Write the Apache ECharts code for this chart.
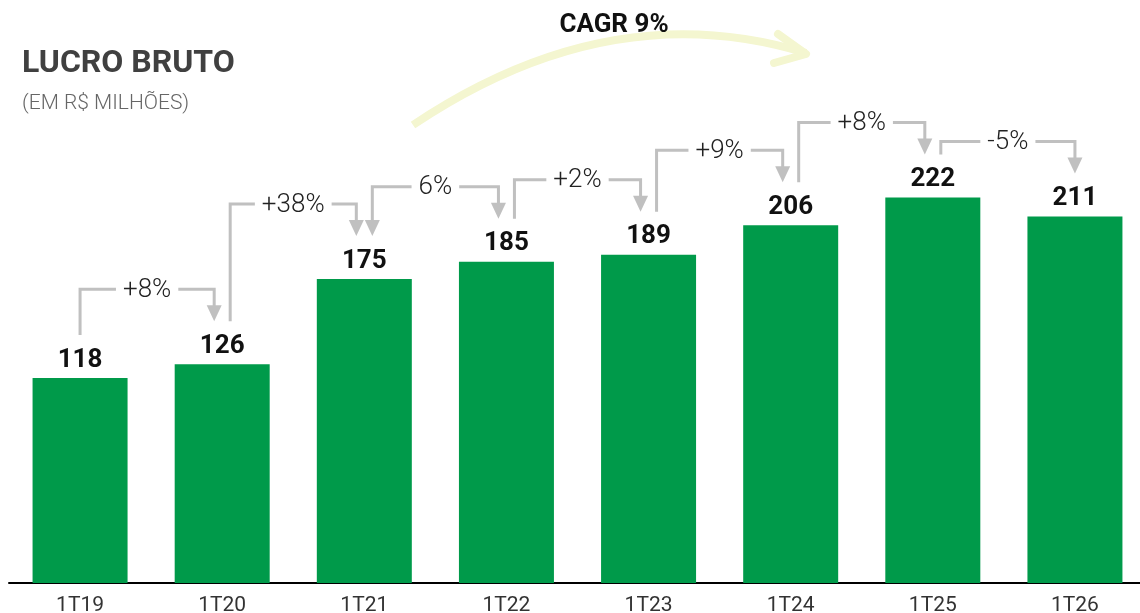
<!DOCTYPE html>
<html>
<head>
<meta charset="utf-8">
<script src="https://cdn.jsdelivr.net/npm/echarts@6/dist/echarts.min.js"></script>
<style>
html,body{margin:0;padding:0;background:#fff;}
#chart{width:1140px;height:613px;}
</style>
</head>
<body>
<div id="chart"></div>
<script>
const categories = ['1T19','1T20','1T21','1T22','1T23','1T24','1T25','1T26'];
const values = [118,126,175,185,189,206,222,211];
const changeLabels = ['+8%','+38%','6%','+2%','+9%','+8%','-5%'];
const titleText = 'LUCRO BRUTO';
const subtitleText = '(EM R$ MILHÕES)';
const cagrText = 'CAGR 9%';

const GRAY = '#c0c0c0';
const doubleArrowAt = 2;

const chart = echarts.init(document.getElementById('chart'));

function arrowHead(x, tipY) {
  return {
    type: 'polygon',
    shape: { points: [[x - 7.5, tipY - 16], [x + 7.5, tipY - 16], [x, tipY]] },
    style: { fill: GRAY }
  };
}

const connectorData = changeLabels.map((l, i) => [i, i + 1, l]);

const option = {
  animation: false,
  grid: { left: 9, width: 1137, top: 62, bottom: 30, containLabel: false, outerBoundsMode: 'none' },
  xAxis: {
    type: 'category',
    data: categories,
    axisLine: { show: true, lineStyle: { color: '#000', width: 2 } },
    axisTick: { show: false },
    axisLabel: { color: '#333', fontSize: 21, fontFamily: 'Roboto', margin: 12 }
  },
  yAxis: { type: 'value', min: 0, max: 300, show: false, splitLine: { show: false } },
  series: [
    {
      type: 'bar',
      data: values,
      barWidth: 95,
      itemStyle: { color: '#009a4a' },
      label: {
        show: true, position: 'top', distance: 5,
        color: '#111', fontSize: 26, fontWeight: 'bold', fontFamily: 'Roboto'
      },
      z: 2
    },
    {
      type: 'custom',
      data: connectorData,
      z: 3,
      renderItem: function (params, api) {
        const i = api.value(0), j = api.value(1);
        const label = changeLabels[params.dataIndex];
        const s = api.coord([i, values[i]]);
        const t = api.coord([j, values[j]]);
        const sx = s[0] + (i === 0 ? 0 : 8);
        const tx = t[0] + (j === categories.length - 1 ? 0 : -8);
        const sy = s[1] - 43;
        const ty = t[1] - 43;
        const hy = t[1] - 75;
        const children = [
          {
            type: 'polyline',
            shape: { points: [[sx, sy], [sx, hy], [tx, hy], [tx, ty - 15]] },
            style: { stroke: GRAY, lineWidth: 3, fill: null }
          },
          arrowHead(tx, ty),
          {
            type: 'text',
            x: (sx + tx) / 2, y: hy + 1,
            style: {
              text: label, align: 'center', verticalAlign: 'middle',
              fill: '#222', fontSize: 26, fontWeight: 300, fontFamily: 'Roboto',
              backgroundColor: '#fff', padding: [2, 7]
            }
          }
        ];
        if (i === doubleArrowAt) {
          children[0].shape.points[0] = [sx, sy - 15];
          children.push(arrowHead(sx, sy));
        }
        return { type: 'group', children: children };
      }
    }
  ],
  graphic: [
    {
      type: 'bezierCurve',
      shape: { x1: 413, y1: 125, x2: 806, y2: 53, cpx1: 610, cpy1: -7 },
      style: { stroke: '#f4f6d0', lineWidth: 8, fill: null, lineCap: 'butt' },
      z: 1
    },
    {
      type: 'polyline',
      shape: { points: [[778, 34], [806, 54], [774, 63]] },
      style: { stroke: '#f4f6d0', lineWidth: 8, fill: null, lineCap: 'round', lineJoin: 'round' },
      z: 1
    },
    {
      type: 'text', x: 614, y: 25, z: 5,
      style: { text: cagrText, align: 'center', verticalAlign: 'middle', fill: '#111', fontSize: 26, fontWeight: 'bold', fontFamily: 'Roboto' }
    },
    {
      type: 'text', x: 22, y: 64, z: 5,
      style: { text: titleText, align: 'left', verticalAlign: 'middle', fill: '#404040', fontSize: 32, fontWeight: 'bold', fontFamily: 'Roboto' }
    },
    {
      type: 'text', x: 22, y: 104, z: 5,
      style: { text: subtitleText, align: 'left', verticalAlign: 'middle', fill: '#666', fontSize: 21, fontWeight: 300, fontFamily: 'Roboto' }
    }
  ]
};
chart.setOption(option);
</script>
</body>
</html>
